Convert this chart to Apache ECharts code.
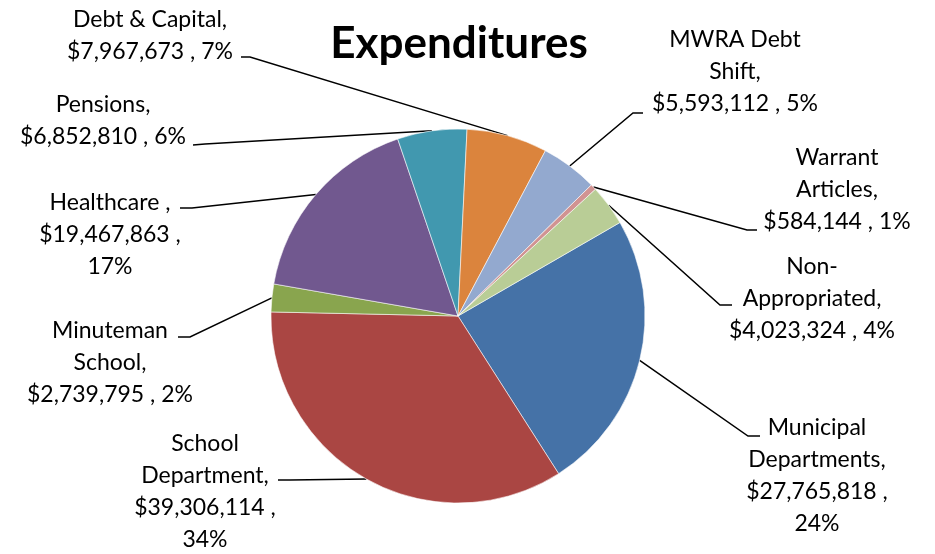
<!DOCTYPE html>
<html><head><meta charset="utf-8">
<script src="https://cdn.jsdelivr.net/npm/echarts@6/dist/echarts.min.js"></script>
<style>html,body{margin:0;padding:0;background:#fff}#c{width:935px;height:554px}</style>
</head><body><div id="c"></div>
<script>
const title = 'Expenditures';
const categories = ['Municipal Departments','School Department','Minuteman School','Healthcare ','Pensions','Debt & Capital','MWRA Debt Shift','Warrant Articles','Non-Appropriated'];
const values = [27765818,39306114,2739795,19467863,6852810,7967673,5593112,584144,4023324];
const colors = ['#4572A7','#AA4643','#89A54E','#71588F','#4198AF','#DB843D','#93A9CF','#D19392','#B9CD96'];

const total = values.reduce((a,b)=>a+b,0);

// label layout (style only): where the name wraps, whether % is on its own line, label anchor and leader elbow
const labelSpec = [
 {br:9, pctLine:true,  x:817, y:412, elbow:[748,436], end:[760,436]},
 {br:6, pctLine:true,  x:205, y:428, elbow:[290,480], end:[278,480]},
 {br:9, pctLine:false, x:110, y:315, elbow:[190,337], end:[178,337]},
 {br:0, pctLine:true,  x:110, y:187, elbow:[192,208], end:[180,208]},
 {br:0, pctLine:false, x:103, y:89,  elbow:[205,144], end:[193,145]},
 {br:0, pctLine:false, x:150, y:4,   elbow:[250,57],  end:[241,57]},
 {br:9, pctLine:false, x:735, y:24,  elbow:[633,113], end:[643,113]},
 {br:7, pctLine:false, x:837, y:142, elbow:[747,230], end:[757,230]},
 {br:4, pctLine:false, x:812, y:251, elbow:[720,305], end:[732,305]}
];

function labelText(i){
  const s = labelSpec[i];
  const name = categories[i];
  const lines = [];
  if (s.br) { lines.push(name.slice(0, s.br).trim()); lines.push(name.slice(s.br).trim() + ','); }
  else lines.push(name + ',');
  const v = '$' + values[i].toLocaleString('en-US') + ' ,';
  const p = Math.round(values[i] / total * 100) + '%';
  if (s.pctLine) { lines.push(v); lines.push(p); } else lines.push(v + ' ' + p);
  return lines.join('\n');
}

const chart = echarts.init(document.getElementById('c'), null, {renderer:'canvas'});
chart.setOption({
  backgroundColor: '#fff',
  animation: false,
  title: {
    text: title, left: 454, top: 14, textAlign: 'center',
    textStyle: {fontFamily: 'Lato', fontWeight: 'bold', fontSize: 44, lineHeight: 50, color: '#000'}
  },
  series: [{
    type: 'pie',
    center: [458, 316],
    radius: 187,
    startAngle: 30,
    clockwise: true,
    avoidLabelOverlap: false,
    emphasis: {disabled: true},
    itemStyle: {borderColor: 'rgba(255,255,255,0.7)', borderWidth: 0.8},
    data: categories.map((c, i) => ({name: c, value: values[i], itemStyle: {color: colors[i]}})),
    label: {
      show: true, position: 'outer', alignTo: 'none', overflow: 'none',
      formatter: p => labelText(p.dataIndex),
      fontFamily: 'Lato', fontSize: 23, lineHeight: 32, color: '#000', align: 'center'
    },
    labelLine: {show: true, length: 10, length2: 10, lineStyle: {color: '#000', width: 1.5}},
    labelLayout: function(params){
      const s = labelSpec[params.dataIndex];
      const pts = params.labelLinePoints;
      const start = pts && pts[0];
      const out = {x: s.x, y: s.y, align: 'center', verticalAlign: 'top'};
      if (start) out.labelLinePoints = [start, s.elbow, s.end];
      return out;
    }
  }]
});
</script>
</body></html>
